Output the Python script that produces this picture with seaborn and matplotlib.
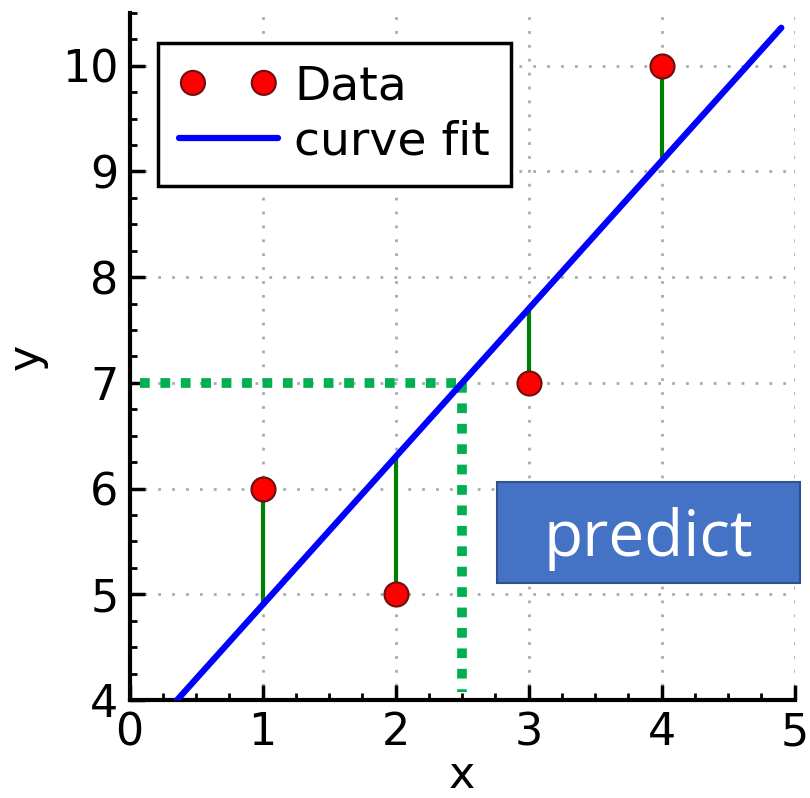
import numpy as np
import pandas as pd
import matplotlib
matplotlib.use('Agg')
import matplotlib.pyplot as plt
import seaborn as sns
from matplotlib.ticker import MultipleLocator
from matplotlib.patches import Rectangle

x_data = [1, 2, 3, 4]
y_data = [6, 5, 7, 10]
fit_x_range = [0.33, 4.9]
x_predict = 2.5
predict_label = 'predict'

df = pd.DataFrame({'x': x_data, 'y': y_data})
slope, intercept = np.polyfit(df['x'], df['y'], 1)
fit_df = pd.DataFrame({'x': fit_x_range})
fit_df['y'] = slope * fit_df['x'] + intercept
y_predict = slope * x_predict + intercept

sns.set_style('ticks')
plt.rcParams['font.family'] = ['DejaVu Sans']
plt.rcParams['text.color'] = 'black'
plt.rcParams['axes.labelcolor'] = 'black'
plt.rcParams['xtick.color'] = 'black'
plt.rcParams['ytick.color'] = 'black'

fig = plt.figure(figsize=(8.1, 7.98), dpi=100)
ax = fig.add_axes([0.160, 0.1228, 0.821, 0.861])

ax.set_xlim(0, 5)
ax.set_ylim(4, 10.5)

# grid
ax.grid(True, color='#aaaaaa', linestyle=(0, (1, 4)), linewidth=2)
ax.set_axisbelow(True)

# residuals
for xi, yi in zip(df['x'], df['y']):
    ax.plot([xi, xi], [yi, slope * xi + intercept], color='green', lw=3, zorder=2)

# prediction guides
ax.plot([0.08, x_predict], [y_predict, y_predict], color='#00b050', lw=7,
        linestyle=(0, (1, 1.1)), zorder=2, dash_capstyle='butt')
ax.plot([x_predict, x_predict], [y_predict, 4.08], color='#00b050', lw=7,
        linestyle=(0, (1, 1.1)), zorder=2, dash_capstyle='butt')

sns.lineplot(data=fit_df, x='x', y='y', color='blue', lw=4.5, ax=ax,
             label='curve fit', zorder=3)
sns.scatterplot(data=df, x='x', y='y', color='red', edgecolor='#6b1010',
                s=300, linewidth=1.5, ax=ax, label='Data', zorder=4)

handles, labels = ax.get_legend_handles_labels()
order = [labels.index('Data'), labels.index('curve fit')]
leg = ax.legend([handles[i] for i in order], [labels[i] for i in order],
                loc='upper left', bbox_to_anchor=(0.042, 0.956), borderaxespad=0,
                scatterpoints=2, scatteryoffsets=[0.5], handlelength=2.1,
                handletextpad=0.35, fontsize=34, fancybox=False, framealpha=1,
                edgecolor='black', borderpad=0.45, labelspacing=0.22)
leg.get_frame().set_linewidth(2.5)

# predict box
ax.add_patch(Rectangle((2.76, 5.11), 2.28, 0.95, facecolor='#4472c4',
                       edgecolor='#2f528f', lw=1.5, clip_on=False, zorder=5))
ax.text(3.9, 5.52, predict_label, color='white', fontsize=46,
        family=['Open Sans', 'DejaVu Sans'], ha='center', va='center', zorder=6)

ax.xaxis.set_major_locator(MultipleLocator(1))
ax.yaxis.set_major_locator(MultipleLocator(1))
ax.xaxis.set_minor_locator(MultipleLocator(0.25))
ax.yaxis.set_minor_locator(MultipleLocator(0.25))
ax.tick_params(which='major', direction='in', length=11, width=2.5, labelsize=32, pad=8)
ax.tick_params(which='minor', direction='in', length=5, width=2)
ax.tick_params(top=False, right=False, which='both')

for side in ['top', 'right']:
    ax.spines[side].set_visible(False)
for side in ['left', 'bottom']:
    ax.spines[side].set_linewidth(3)
    ax.spines[side].set_color('black')

ax.set_xlabel('x', fontsize=32, labelpad=0)
ax.set_ylabel('y', fontsize=32, labelpad=10)

fig.savefig('out.png', dpi=100)
